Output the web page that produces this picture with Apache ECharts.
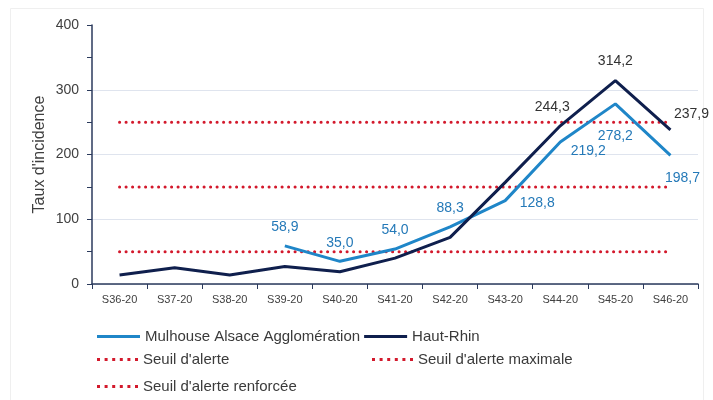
<!DOCTYPE html>
<html lang="fr">
<head>
<meta charset="utf-8">
<title>Taux d'incidence</title>
<script src="https://cdn.jsdelivr.net/npm/echarts@6/dist/echarts.min.js"></script>
</head>
<body style="margin:0;background:#fff">
<div id="container" style="width:713px;height:400px"></div>
<script type="text/javascript">
// semaines
var weeks = ['S36-20', 'S37-20', 'S38-20', 'S39-20', 'S40-20', 'S41-20', 'S42-20', 'S43-20', 'S44-20', 'S45-20', 'S46-20'];
// taux d'incidence
var mulhouse = [null, null, null, 58.9, 35.0, 54.0, 88.3, 128.8, 219.2, 278.2, 198.7];
var hautRhin = [14, 25, 14, 27, 19, 40, 72, 157, 244.3, 314.2, 237.9];
// seuils
var seuilAlerte = 50;
var seuilRenforcee = 150;
var seuilMaximale = 250;
var yTicks = [0, 100, 200, 300, 400];

// which points carry a label, and where it sits
var mulLabelOffsets = {3: [0, -7], 4: [0, -6], 5: [0, -7], 6: [0, -7], 7: [32, 15], 8: [28, 21], 9: [0, 44], 10: [12, 35]};
var hrLabelOffsets = {8: [-8, -7], 9: [0, -7], 10: [21, -4]};

function fmt(v) { return v.toFixed(1).replace('.', ','); }

function withLabels(values, offsets, color) {
	return values.map(function (v, i) {
		if (v === null) return null;
		if (offsets[i]) {
			return {
				value: v,
				label: {
					show: true, position: 'top', offset: offsets[i], color: color,
					fontSize: 14, fontFamily: 'Liberation Sans',
					formatter: function (p) { return fmt(p.value); }
				}
			};
		}
		return v;
	});
}

function flat(v) { return weeks.map(function () { return v; }); }

var red = '#d3192c';
var dotted = { type: [0.1, 6.4], width: 3, color: red, cap: 'round' };
var legendText = { fontSize: 15, color: '#3a3a3a' };
// six little dots for the threshold legend icons
var dotsIcon = 'path://M0,0h3v3h-3z M7.6,0h3v3h-3z M15.2,0h3v3h-3z M22.8,0h3v3h-3z M30.4,0h3v3h-3z M38,0h3v3h-3z';

var dom = document.getElementById('container');
var myChart = echarts.init(dom, null, { renderer: 'canvas' });

var option = {
	animation: false,
	textStyle: { fontFamily: 'Liberation Sans' },
	grid: { left: 92, right: 15, top: 25, bottom: 116 },
	graphic: [{
		type: 'rect', silent: true, z: -1,
		shape: { x: 10.5, y: 8.5, width: 693, height: 400 },
		style: { fill: 'none', stroke: '#efefef', lineWidth: 1 }
	}],
	legend: [
		{ left: 92, top: 324, itemWidth: 43, itemHeight: 3, itemGap: 4, icon: 'rect',
		  data: ['Mulhouse Alsace Agglomération', 'Haut-Rhin'], textStyle: legendText },
		{ left: 92, top: 347, itemWidth: 41, itemHeight: 3, icon: dotsIcon, data: ["Seuil d'alerte"], textStyle: legendText },
		{ left: 367, top: 347, itemWidth: 41, itemHeight: 3, icon: dotsIcon, data: ["Seuil d'alerte maximale"], textStyle: legendText },
		{ left: 92, top: 374, itemWidth: 41, itemHeight: 3, icon: dotsIcon, data: ["Seuil d'alerte renforcée"], textStyle: legendText }
	],
	xAxis: {
		type: 'category',
		data: weeks,
		axisLine: { lineStyle: { color: '#2b3a5c', width: 1.5 } },
		axisTick: { show: true, length: 5, lineStyle: { color: '#2b3a5c' } },
		axisLabel: { color: '#404040', fontSize: 11, margin: 10 }
	},
	yAxis: {
		type: 'value',
		min: yTicks[0],
		max: yTicks[yTicks.length - 1],
		interval: 100,
		name: "Taux d'incidence",
		nameLocation: 'middle',
		nameGap: 44,
		nameMoveOverlap: false,
		nameTextStyle: { color: '#404040', fontSize: 16 },
		axisLine: { show: true, lineStyle: { color: '#2b3a5c', width: 1.5 } },
		axisTick: { show: true, length: 5, lineStyle: { color: '#2b3a5c' } },
		minorTick: { show: true, splitNumber: 2, length: 5, lineStyle: { color: '#2b3a5c' } },
		axisLabel: { color: '#404040', fontSize: 14, margin: 13 },
		splitLine: { lineStyle: { color: ['#dfe4ee', '#dfe4ee', '#dfe4ee', '#dfe4ee', 'rgba(0,0,0,0)'] } }
	},
	series: [
		{
			name: "Seuil d'alerte", type: 'line', data: flat(seuilAlerte),
			showSymbol: false, symbol: 'none', lineStyle: dotted, itemStyle: { color: red }, z: 1
		},
		{
			name: "Seuil d'alerte maximale", type: 'line', data: flat(seuilMaximale),
			showSymbol: false, symbol: 'none', lineStyle: dotted, itemStyle: { color: red }, z: 1
		},
		{
			name: "Seuil d'alerte renforcée", type: 'line', data: flat(seuilRenforcee),
			showSymbol: false, symbol: 'none', lineStyle: dotted, itemStyle: { color: red }, z: 1
		},
		{
			name: 'Mulhouse Alsace Agglomération', type: 'line',
			data: withLabels(mulhouse, mulLabelOffsets, '#2479b8'),
			symbol: 'circle', symbolSize: 0, showSymbol: true,
			lineStyle: { color: '#1f86c8', width: 3 }, itemStyle: { color: '#1f86c8' }, z: 3
		},
		{
			name: 'Haut-Rhin', type: 'line',
			data: withLabels(hautRhin, hrLabelOffsets, '#333'),
			symbol: 'circle', symbolSize: 0, showSymbol: true,
			lineStyle: { color: '#0f1f4d', width: 3 }, itemStyle: { color: '#0f1f4d' }, z: 4
		}
	]
};

myChart.setOption(option);
</script>
</body>
</html>
